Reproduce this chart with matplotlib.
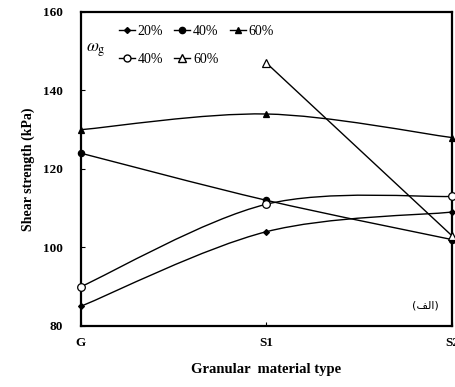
import matplotlib
matplotlib.use('Agg')
import matplotlib.pyplot as plt
from matplotlib.path import Path
from matplotlib.patches import PathPatch
from matplotlib.lines import Line2D

# data
categories = ['G', 'S1', 'S2']
filled_20 = [85, 104, 109]
filled_40 = [124, 112, 102]
filled_60 = [130, 134, 128]
open_40 = [90, 111, 113]
open_60_cats = ['S1', 'S2']
open_60 = [147, 103]
yticks = [80, 100, 120, 140, 160]

plt.rcParams['font.family'] = ['Liberation Serif', 'DejaVu Sans']
plt.rcParams['mathtext.fontset'] = 'stix'

fig = plt.figure(figsize=(4.55, 3.87), dpi=100)
ax = fig.add_axes([0.178, 0.158, 0.815, 0.811])


def smooth(ax, xs, ys):
    # excel-like smoothed line (catmull-rom as cubic bezier)
    pts = list(zip(xs, ys))
    verts = [pts[0]]
    codes = [Path.MOVETO]
    n = len(pts)
    for i in range(n - 1):
        p0 = pts[i - 1] if i > 0 else pts[i]
        p1 = pts[i]
        p2 = pts[i + 1]
        p3 = pts[i + 2] if i + 2 < n else pts[i + 1]
        c1 = (p1[0] + (p2[0] - p0[0]) / 6, p1[1] + (p2[1] - p0[1]) / 6)
        c2 = (p2[0] - (p3[0] - p1[0]) / 6, p2[1] - (p3[1] - p1[1]) / 6)
        verts += [c1, c2, p2]
        codes += [Path.CURVE4] * 3
    ax.add_patch(PathPatch(Path(verts, codes), fill=False, lw=1.0, ec='black'))


xpos = {c: i for i, c in enumerate(categories)}
series = [
    (categories, filled_20, 'D', 'black', 3),
    (categories, filled_40, 'o', 'black', 4.5),
    (categories, filled_60, '^', 'black', 5),
    (categories, open_40, 'o', 'white', 5.5),
    (open_60_cats, open_60, '^', 'white', 6),
]
for cats, vals, mk, fc, ms in series:
    xs = [xpos[c] for c in cats]
    smooth(ax, xs, vals)
    ax.plot(xs, vals, ls='none', marker=mk, mfc=fc, mec='black', mew=0.9, ms=ms,
            clip_on=False, zorder=5)

ax.set_xlim(0, 2)
ax.set_ylim(80, 160)
ax.set_xticks(range(len(categories)))
ax.set_xticklabels(categories)
ax.set_yticks(yticks)
ax.tick_params(direction='in', length=3, width=0.8)
ax.tick_params(axis='y', pad=13)
ax.tick_params(axis='x', pad=8)
for lab in ax.get_xticklabels() + ax.get_yticklabels():
    lab.set_fontweight('bold')
    lab.set_fontsize(9.5)
for s in ax.spines.values():
    s.set_linewidth(1.6)

ax.set_ylabel('Shear strength (kPa)', fontsize=10, fontweight='bold', labelpad=6)
ax.set_xlabel('Granular  material type', fontsize=10.5, fontweight='bold', labelpad=10)

# legend
h1 = [Line2D([], [], color='black', lw=1, marker='D', ms=3, mfc='black', mec='black'),
      Line2D([], [], color='black', lw=1, marker='o', ms=4.5, mfc='black', mec='black'),
      Line2D([], [], color='black', lw=1, marker='^', ms=5, mfc='black', mec='black')]
h2 = [Line2D([], [], color='black', lw=1, marker='o', ms=5, mfc='white', mec='black'),
      Line2D([], [], color='black', lw=1, marker='^', ms=5.5, mfc='white', mec='black')]
leg1 = ax.legend(h1, ['20%', '40%', '60%'], ncol=3, loc='upper left',
                 bbox_to_anchor=(0.08, 0.985), frameon=False, fontsize=10,
                 handlelength=1.15, handletextpad=0.2, columnspacing=0.8,
                 borderaxespad=0.2)
ax.add_artist(leg1)
ax.legend(h2, ['40%', '60%'], ncol=2, loc='upper left',
          bbox_to_anchor=(0.08, 0.895), frameon=False, fontsize=10,
          handlelength=1.15, handletextpad=0.2, columnspacing=0.8,
          borderaxespad=0.2)
ax.text(0.013, 0.878, r'$\omega_{\rm g}$', transform=ax.transAxes, fontsize=12.5,
        va='center', ha='left')
# "(الف)" written in visual order with joined letter forms
ax.text(0.93, 0.065, '(\uFED2\uFEDF\uFE8D)', transform=ax.transAxes, fontsize=8,
        family=['DejaVu Sans'], ha='center', va='center')

fig.savefig('out.png', dpi=100)
